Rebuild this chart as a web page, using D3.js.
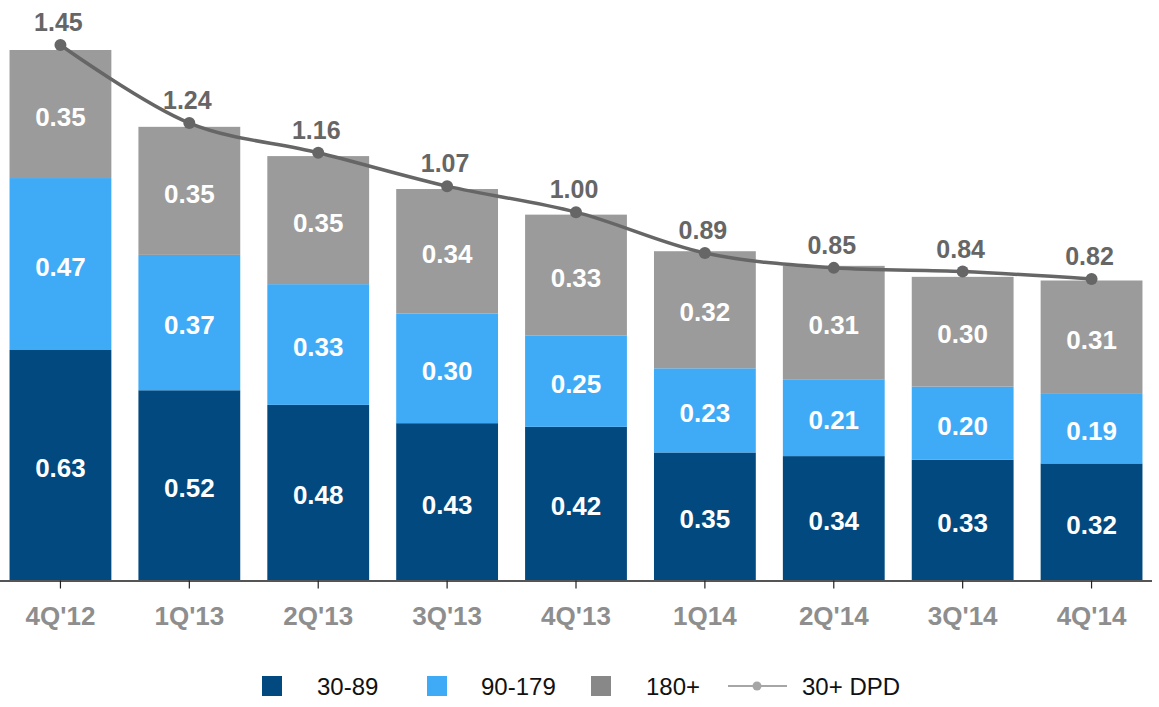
<!DOCTYPE html>
<html>
<head>
<meta charset="utf-8">
<script src="https://d3js.org/d3.v7.min.js"></script>
<style>
  body { margin: 0; background: #fff; }
  svg { display: block; font-family: Arial, "Liberation Sans", sans-serif; }
</style>
</head>
<body>
<svg id="chart" width="1159" height="707"></svg>
<script>
  // data
  const quarters = ["4Q'12", "1Q'13", "2Q'13", "3Q'13", "4Q'13", "1Q14", "2Q'14", "3Q'14", "4Q'14"];
  const dpd30_89 = [0.63, 0.52, 0.48, 0.43, 0.42, 0.35, 0.34, 0.33, 0.32];
  const dpd90_179 = [0.47, 0.37, 0.33, 0.30, 0.25, 0.23, 0.21, 0.20, 0.19];
  const dpd180 = [0.35, 0.35, 0.35, 0.34, 0.33, 0.32, 0.31, 0.30, 0.31];
  const dpd30plus = [1.45, 1.24, 1.16, 1.07, 1.00, 0.89, 0.85, 0.84, 0.82];

  const seriesKeys = ["30-89", "90-179", "180+"];
  const seriesColors = ["#02497f", "#3fabf7", "#9b9b9b"];

  const svg = d3.select("#chart");

  const rows = quarters.map((q, i) => ({
    q: q,
    "30-89": dpd30_89[i],
    "90-179": dpd90_179[i],
    "180+": dpd180[i],
    total: dpd30plus[i]
  }));

  const x = d3.scaleBand()
    .domain(quarters)
    .range([-4, 1156])
    .paddingInner(0.21)
    .paddingOuter(0.105);

  // bars
  const y = d3.scaleLinear().domain([0, 1.45]).range([580.5, 50]);
  // line sits on its own (secondary) scale, a touch taller
  const yLine = d3.scaleLinear().domain([0, 1.45]).range([583.6, 45]);

  const color = d3.scaleOrdinal().domain(seriesKeys).range(seriesColors);

  const stacked = d3.stack().keys(seriesKeys)(rows);

  const layers = svg.append("g").selectAll("g.layer")
    .data(stacked)
    .join("g")
    .attr("class", "layer")
    .attr("fill", d => color(d.key));

  layers.selectAll("rect")
    .data(d => d)
    .join("rect")
    .attr("x", d => x(d.data.q))
    .attr("y", d => y(d[1]))
    .attr("width", x.bandwidth())
    .attr("height", d => y(d[0]) - y(d[1]));

  // segment labels
  layers.selectAll("text")
    .data(d => d.map(v => ({ v: v, key: d.key })))
    .join("text")
    .attr("x", d => x(d.v.data.q) + x.bandwidth() / 2)
    .attr("y", d => (y(d.v[0]) + y(d.v[1])) / 2)
    .attr("dy", "0.45em")
    .attr("text-anchor", "middle")
    .attr("fill", "#fff")
    .style("font-weight", "bold")
    .style("font-size", "26px")
    .text(d => d3.format(".2f")(d.v.data[d.key]));

  // x axis
  const xAxis = svg.append("g")
    .attr("transform", "translate(0,580.5)")
    .call(d3.axisBottom(x).tickSize(8).tickSizeOuter(0));
  xAxis.select(".domain").attr("d", "M0,0.5H1152").attr("stroke", "#555").attr("stroke-width", 2);
  xAxis.selectAll(".tick line").attr("stroke", "#222").attr("stroke-width", 1.2);
  xAxis.selectAll(".tick text")
    .attr("y", 44)
    .attr("dy", 0)
    .attr("fill", "#8e8e8e")
    .style("font-family", "Arial, 'Liberation Sans', sans-serif")
    .style("font-weight", "bold")
    .style("font-size", "26px");

  // 30+ DPD line
  const line = d3.line()
    .x(d => x(d.q) + x.bandwidth() / 2)
    .y(d => yLine(d.total))
    .curve(d3.curveCatmullRom.alpha(0.5));

  svg.append("path")
    .datum(rows)
    .attr("d", line)
    .attr("fill", "none")
    .attr("stroke", "#666")
    .attr("stroke-width", 3.5);

  svg.append("g").selectAll("circle")
    .data(rows)
    .join("circle")
    .attr("cx", d => x(d.q) + x.bandwidth() / 2)
    .attr("cy", d => yLine(d.total))
    .attr("r", 6)
    .attr("fill", "#666");

  svg.append("g").selectAll("text")
    .data(rows)
    .join("text")
    .attr("x", d => x(d.q) + x.bandwidth() / 2 - 2)
    .attr("y", d => yLine(d.total) - 14)
    .attr("text-anchor", "middle")
    .attr("fill", "#666")
    .style("font-weight", "bold")
    .style("font-size", "25px")
    .text(d => d3.format(".2f")(d.total));

  // legend
  const legend = svg.append("g").attr("transform", "translate(0,686)");
  const legendItems = [
    { label: "30-89", color: "#02497f", sx: 262, tx: 317 },
    { label: "90-179", color: "#3fabf7", sx: 427, tx: 481 },
    { label: "180+", color: "#888888", sx: 591, tx: 646 }
  ];
  legendItems.forEach(it => {
    legend.append("rect")
      .attr("x", it.sx).attr("y", -10)
      .attr("width", 20).attr("height", 20)
      .attr("fill", it.color);
    legend.append("text")
      .attr("x", it.tx).attr("y", 0).attr("dy", "0.36em")
      .attr("fill", "#111")
      .style("font-size", "24px")
      .text(it.label);
  });
  legend.append("line")
    .attr("x1", 728).attr("x2", 787).attr("y1", 0).attr("y2", 0)
    .attr("stroke", "#a6a6a6").attr("stroke-width", 2);
  legend.append("circle")
    .attr("cx", 757).attr("cy", 0).attr("r", 4.5).attr("fill", "#a6a6a6");
  legend.append("text")
    .attr("x", 802).attr("y", 0).attr("dy", "0.36em")
    .attr("fill", "#111")
    .style("font-size", "24px")
    .text("30+ DPD");
</script>
</body>
</html>
